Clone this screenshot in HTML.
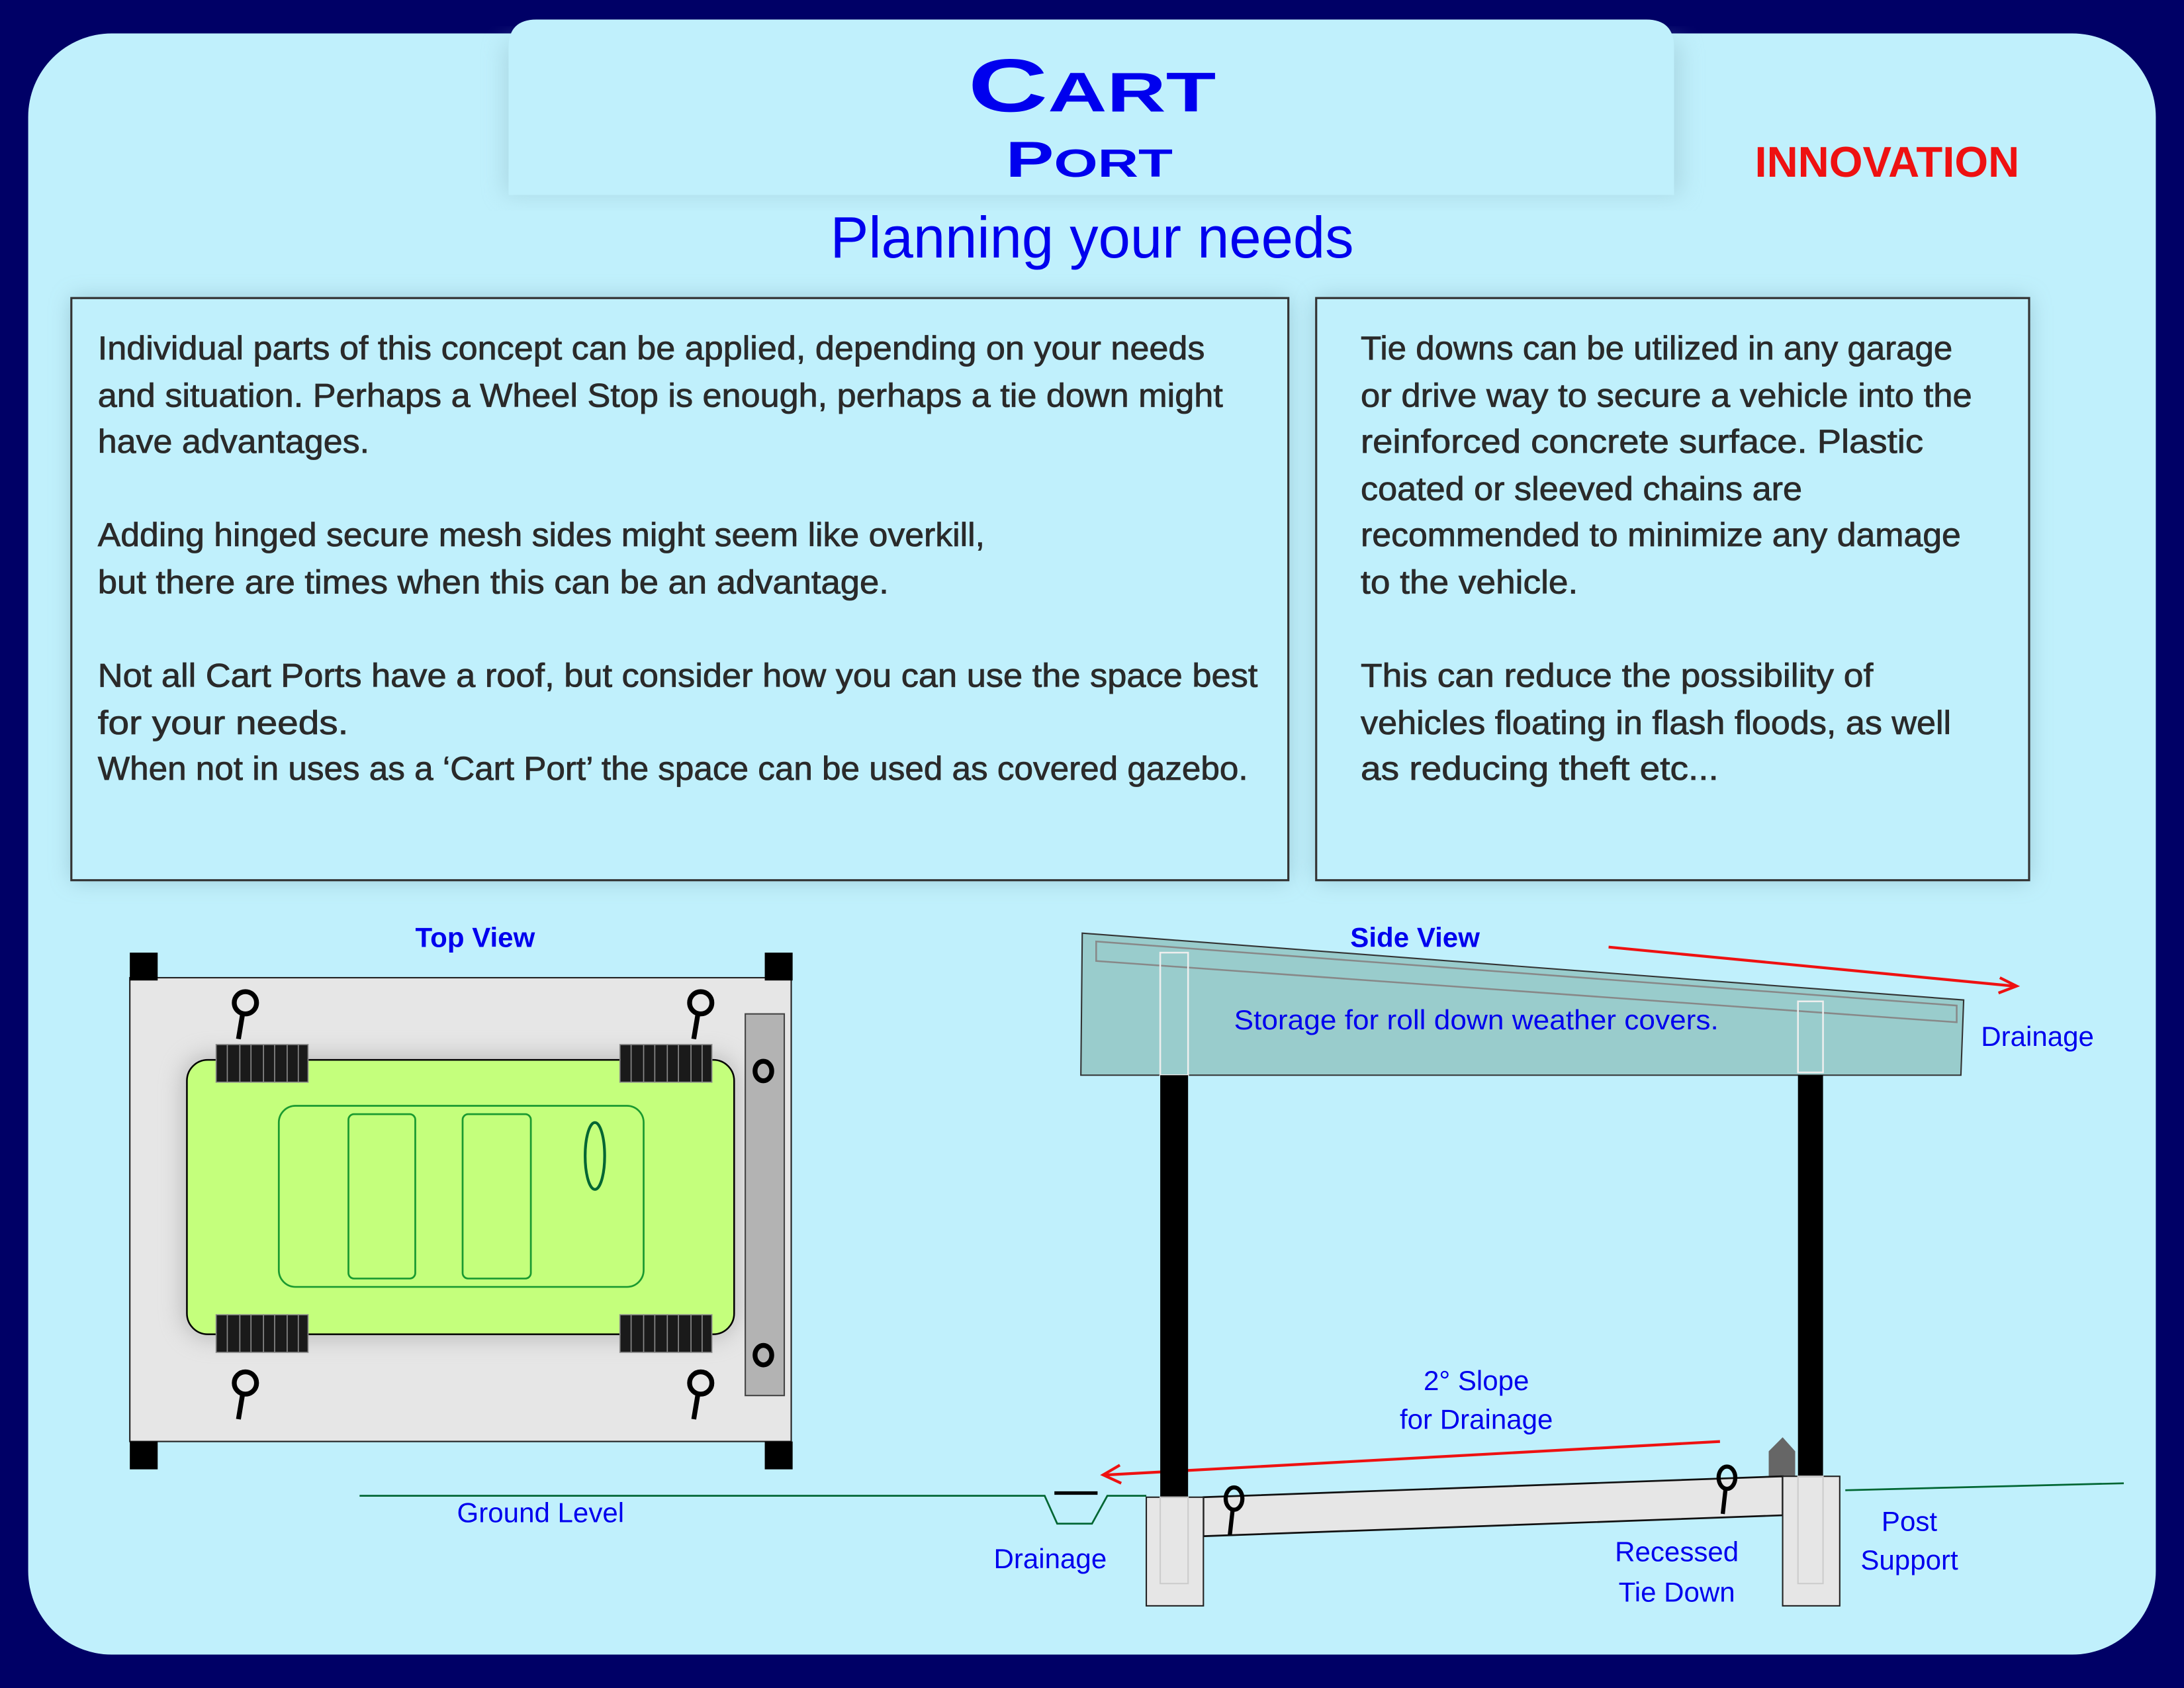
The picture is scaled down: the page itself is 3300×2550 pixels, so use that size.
<!DOCTYPE html>
<html><head><meta charset="utf-8"><style>html,body{margin:0;padding:0;background:#000066}svg{display:block}</style></head>
<body>
<svg xmlns="http://www.w3.org/2000/svg" width="3300" height="2550" viewBox="0 0 1568 1212">
<defs>
<filter id="sh" x="-10%" y="-10%" width="120%" height="120%"><feGaussianBlur stdDeviation="8"/></filter>
</defs>
<rect width="1568" height="1212" fill="#000066"/>
<rect x="20" y="24" width="1528" height="1164" rx="60" fill="#c0f0fc"/>
<!-- header tab -->
<rect x="362" y="30" width="845" height="110" fill="#9cc8d4" filter="url(#sh)" opacity="0.6"/>
<path d="M365 140 V34 Q365 14 385 14 H1182 Q1202 14 1202 34 V140 Z" fill="#c0f0fc"/>
<g font-family="Liberation Sans, sans-serif" fill="#0000ee" font-weight="bold">
<text x="695" y="80" font-size="54" textLength="178" lengthAdjust="spacingAndGlyphs">C<tspan font-size="40">ART</tspan></text>
<text x="722" y="127" font-size="36" textLength="120" lengthAdjust="spacingAndGlyphs">P<tspan font-size="28">ORT</tspan></text>
<text x="596" y="185" font-size="42" font-weight="normal" textLength="376" lengthAdjust="spacingAndGlyphs">Planning your needs</text>
</g>
<text x="1355" y="127" font-family="Liberation Sans, sans-serif" font-weight="bold" font-size="31" fill="#ee1111" text-anchor="middle">INNOVATION</text>
<!-- boxes -->
<rect x="51" y="214" width="874" height="418" fill="#8ab8c4" filter="url(#sh)" opacity="0.7"/>
<rect x="51" y="214" width="874" height="418" fill="#c0f0fc" stroke="#333" stroke-width="1.5"/>
<rect x="945" y="214" width="512" height="418" fill="#8ab8c4" filter="url(#sh)" opacity="0.7"/>
<rect x="945" y="214" width="512" height="418" fill="#c0f0fc" stroke="#333" stroke-width="1.5"/>
<g font-family="Liberation Sans, sans-serif" font-size="24" fill="#2a2a2a" stroke="#2a2a2a" stroke-width="0.4" lengthAdjust="spacingAndGlyphs">
<text x="70" y="258" textLength="795" lengthAdjust="spacingAndGlyphs">Individual parts of this concept can be applied, depending on your needs</text>
<text x="70" y="292" textLength="808" lengthAdjust="spacingAndGlyphs">and situation. Perhaps a Wheel Stop is enough, perhaps a tie down might</text>
<text x="70" y="325" textLength="195" lengthAdjust="spacingAndGlyphs">have advantages.</text>
<text x="70" y="392" textLength="637" lengthAdjust="spacingAndGlyphs">Adding hinged secure mesh sides might seem like overkill,</text>
<text x="70" y="426" textLength="568" lengthAdjust="spacingAndGlyphs">but there are times when this can be an advantage.</text>
<text x="70" y="493" textLength="833" lengthAdjust="spacingAndGlyphs">Not all Cart Ports have a roof, but consider how you can use the space best</text>
<text x="70" y="527" textLength="180" lengthAdjust="spacingAndGlyphs">for your needs.</text>
<text x="70" y="560" textLength="826" lengthAdjust="spacingAndGlyphs">When not in uses as a ‘Cart Port’ the space can be used as covered gazebo.</text>
<text x="977" y="258" textLength="425" lengthAdjust="spacingAndGlyphs">Tie downs can be utilized in any garage</text>
<text x="977" y="292" textLength="439" lengthAdjust="spacingAndGlyphs">or drive way to secure a vehicle into the</text>
<text x="977" y="325" textLength="404" lengthAdjust="spacingAndGlyphs">reinforced concrete surface. Plastic</text>
<text x="977" y="359" textLength="317" lengthAdjust="spacingAndGlyphs">coated or sleeved chains are</text>
<text x="977" y="392" textLength="431" lengthAdjust="spacingAndGlyphs">recommended to minimize any damage</text>
<text x="977" y="426" textLength="156" lengthAdjust="spacingAndGlyphs">to the vehicle.</text>
<text x="977" y="493" textLength="368" lengthAdjust="spacingAndGlyphs">This can reduce the possibility of</text>
<text x="977" y="527" textLength="424" lengthAdjust="spacingAndGlyphs">vehicles floating in flash floods, as well</text>
<text x="977" y="560" textLength="257" lengthAdjust="spacingAndGlyphs">as reducing theft etc...</text>
</g>
<!-- top view -->
<text x="341" y="680" font-family="Liberation Sans, sans-serif" font-weight="bold" font-size="20" fill="#0000ee" text-anchor="middle">Top View</text>
<rect x="93" y="702" width="475" height="333" fill="#e6e6e6" stroke="#222" stroke-width="1"/>
<g fill="#000"><rect x="93" y="684" width="20" height="20"/><rect x="549" y="684" width="20" height="20"/><rect x="93" y="1035" width="20" height="20"/><rect x="549" y="1035" width="20" height="20"/></g>
<rect x="130" y="757" width="400" height="205" rx="20" fill="#999" filter="url(#sh)" opacity="0.5"/>
<rect x="134" y="761" width="393" height="197" rx="15" fill="#c4ff7c" stroke="#000" stroke-width="1.2"/>
<rect x="200" y="794" width="262" height="130" rx="12" fill="none" stroke="#1a9a30" stroke-width="1.3"/>
<rect x="250" y="800" width="48" height="118" rx="4" fill="none" stroke="#1a9a30" stroke-width="1.3"/>
<rect x="332" y="800" width="49" height="118" rx="4" fill="none" stroke="#1a9a30" stroke-width="1.3"/>
<ellipse cx="427" cy="830" rx="7" ry="24" fill="none" stroke="#006633" stroke-width="2"/>
<g fill="#1a1a1a" stroke="#888" stroke-width="0.8">
<rect x="155" y="750" width="66" height="27"/><rect x="445" y="750" width="66" height="27"/>
<rect x="155" y="944" width="66" height="27"/><rect x="445" y="944" width="66" height="27"/>
</g>
<g stroke="#888" stroke-width="0.8">
<path d="M163 750v27M172 750v27M180 750v27M189 750v27M197 750v27M206 750v27M214 750v27M453 750v27M462 750v27M470 750v27M479 750v27M487 750v27M496 750v27M504 750v27M163 944v27M172 944v27M180 944v27M189 944v27M197 944v27M206 944v27M214 944v27M453 944v27M462 944v27M470 944v27M479 944v27M487 944v27M496 944v27M504 944v27"/>
</g>
<g fill="none" stroke="#000" stroke-width="3.5">
<ellipse cx="176" cy="720" rx="8" ry="8"/><path d="M174 728l-3 18"/>
<ellipse cx="503" cy="720" rx="8" ry="8"/><path d="M501 728l-3 18"/>
<ellipse cx="176" cy="993" rx="8" ry="8"/><path d="M174 1001l-3 18"/>
<ellipse cx="503" cy="993" rx="8" ry="8"/><path d="M501 1001l-3 18"/>
</g>
<rect x="535" y="728" width="28" height="274" fill="#b3b3b3" stroke="#444" stroke-width="1"/>
<g fill="none" stroke="#000" stroke-width="3.5"><ellipse cx="548" cy="769" rx="6" ry="7"/><ellipse cx="548" cy="973" rx="6" ry="7"/></g>
<!-- side view -->
<polygon points="777,670 1410,718 1408,772 776,772" fill="#99cccc" stroke="#333" stroke-width="1"/>
<polygon points="787,676 1405,722 1405,734 787,690" fill="none" stroke="#888" stroke-width="1.2"/>
<rect x="833" y="684" width="20" height="88" fill="none" stroke="#eee" stroke-width="1.2"/>
<rect x="1291" y="719" width="18" height="51" fill="none" stroke="#eee" stroke-width="1.2"/>
<text x="1016" y="680" font-family="Liberation Sans, sans-serif" font-weight="bold" font-size="20" fill="#0000ee" text-anchor="middle">Side View</text>
<g stroke="#ee1111" stroke-width="2" fill="none"><path d="M1155 680L1446 708"/><path d="M1436 702l12 6-13 5"/>
<path d="M1235 1035L794 1059"/><path d="M804 1052l-12 7 13 6"/></g>
<g font-family="Liberation Sans, sans-serif" font-size="20" fill="#0000ee" text-anchor="middle">
<text x="1060" y="739" textLength="348" lengthAdjust="spacingAndGlyphs">Storage for roll down weather covers.</text>
<text x="1463" y="751">Drainage</text>
<text x="1060" y="998">2°  Slope</text>
<text x="1060" y="1026">for Drainage</text>
<text x="388" y="1093">Ground Level</text>
<text x="754" y="1126">Drainage</text>
<text x="1007" y="1091">Concrete Pad</text>
<text x="1204" y="1121">Recessed</text>
<text x="1204" y="1150">Tie Down</text>
<text x="1371" y="1099">Post</text>
<text x="1371" y="1127">Support</text>
</g>
<rect x="833" y="772" width="20" height="303" fill="#000"/>
<rect x="1291" y="772" width="18" height="288" fill="#000"/>
<polygon points="1270,1042 1280,1032 1289,1042 1289,1060 1270,1060" fill="#666"/>
<g fill="none" stroke="#006633" stroke-width="1.3">
<path d="M258 1074H750L759 1094H784L795 1074H823"/>
<path d="M1325 1070L1525 1065"/>
</g>
<path d="M757 1072H788" stroke="#000" stroke-width="2.5"/>
<polygon points="864,1075 1280,1060 1280,1088 864,1103" fill="#e6e6e6" stroke="#111" stroke-width="1.3"/>
<rect x="823" y="1075" width="41" height="78" fill="#e6e6e6" stroke="#222" stroke-width="1"/>
<rect x="833" y="1075" width="20" height="62" fill="none" stroke="#ccc" stroke-width="1"/>
<rect x="1280" y="1060" width="41" height="93" fill="#e6e6e6" stroke="#222" stroke-width="1"/>
<rect x="1291" y="1060" width="18" height="77" fill="none" stroke="#ccc" stroke-width="1"/>
<g fill="none" stroke="#000" stroke-width="3">
<ellipse cx="886" cy="1076" rx="6" ry="8"/><path d="M885 1084l-2 18"/>
<ellipse cx="1240" cy="1061" rx="6" ry="8"/><path d="M1239 1069l-2 18"/>
</g>
</svg>
</body></html>
